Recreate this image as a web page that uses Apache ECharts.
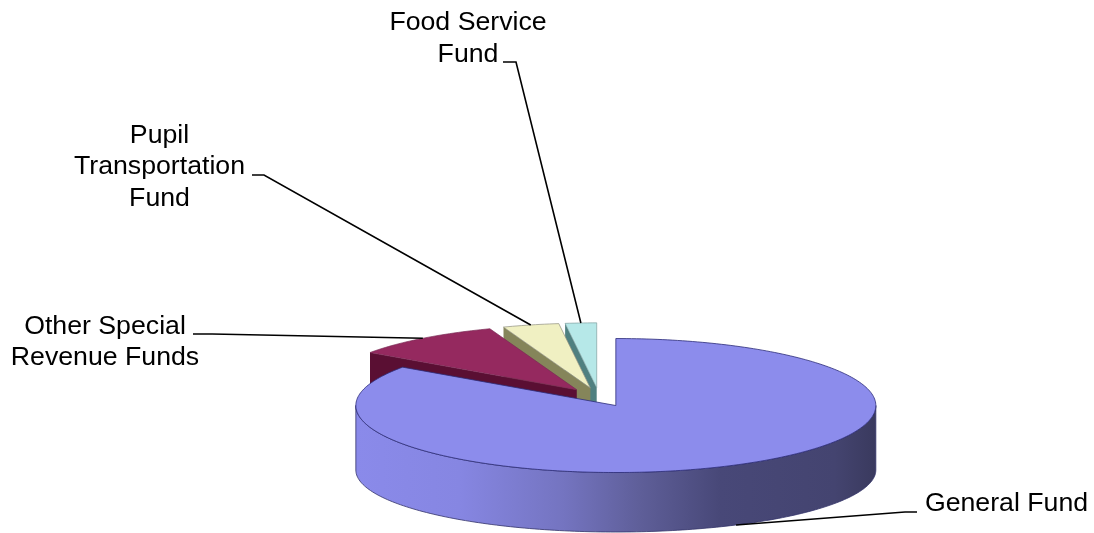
<!DOCTYPE html>
<html>
<head>
<meta charset="utf-8">
<style>html,body{margin:0;padding:0;background:#fff}#c{width:1094px;height:533px}</style>
<script src="https://cdn.jsdelivr.net/npm/echarts@6/dist/echarts.min.js"></script>
</head>
<body>
<div id="c"></div>
<script>
// Data
const categories = ['General Fund', 'Other Special\nRevenue Funds', 'Pupil\nTransportation\nFund', 'Food Service\nFund'];
const shares = [84.7, 9.7, 3.6, 2.0];

// Styles and layout
const topColors = ['#8c8cec', '#95295f', '#f0f0c2', '#b6e8e8'];
const cutColors = ['#4a4a80', '#5a0f33', '#85855a', '#4f8080'];
const edgeColors = ['#2c2c78', '#7a2a55', '#8f8f80', '#7f9f9f'];
const wallStops = [[0, '#8a8aea'], [0.2, '#8686e2'], [0.4, '#7474c0'], [0.55, '#5e5e98'], [0.7, '#484878'], [0.92, '#444470'], [1, '#3a3a5e']];
const labelBoxes = [
  {x: 1006.5, y: 504, lh: 31, elbow: [917, 512], knee: [905, 512]},
  {x: 105, y: 342.5, lh: 31, elbow: [193, 334], knee: [212, 334]},
  {x: 159.5, y: 167, lh: 31.5, elbow: [252, 175], knee: [264, 175]},
  {x: 468, y: 38.5, lh: 32, elbow: [503, 62], knee: [516, 62]}
];
const radiusScale = [1, 0.97, 0.97, 0.97];
const view = {cx: 599, cy: 397.2, rx: 260, ry: 67, depth: 64.5, ryBottom: 62, explode: 0.14};

const chart = echarts.init(document.getElementById('c'), null, {renderer: 'canvas'});
const total = shares.reduce((a, b) => a + b, 0);

function pt(c, t, k, ry) {
  return [c[0] + view.rx * k * Math.sin(t), c[1] - (ry || view.ry) * k * Math.cos(t)];
}
function arc(c, a, b, k, ry) {
  const n = Math.max(2, Math.ceil(Math.abs(b - a) / 0.02));
  const out = [];
  for (let i = 0; i <= n; i++) out.push(pt(c, a + (b - a) * i / n, k, ry));
  return out;
}
function sliceAngles(index) {
  let s = 0;
  for (let i = 0; i < index; i++) s += shares[i];
  return [s / total * Math.PI * 2, (s + shares[index]) / total * Math.PI * 2];
}

function renderItem(params, api) {
  const i = api.value(0);
  const [a, b] = sliceAngles(i);
  const mid = (a + b) / 2;
  const k = radiusScale[i];
  const c = [
    view.cx + view.rx * view.explode * Math.sin(mid),
    view.cy - view.ry * view.explode * Math.cos(mid)
  ];
  const low = [c[0], c[1] + view.depth];
  const z = i === 0 ? 20 : 14 - i;
  const children = [];

  // cut face at the start of the slice (visible for slices behind the front)
  if (i > 0) {
    const o = pt(c, a, k);
    children.push({
      type: 'polygon', z2: z,
      shape: {points: [o, c, low, [o[0], o[1] + view.depth]]},
      style: {fill: cutColors[i]}
    });
  }
  // outer wall, only on the front half
  const wa = Math.max(a, Math.PI / 2), wb = Math.min(b, Math.PI * 1.5);
  if (wb > wa) {
    const pts = arc(c, wa, wb, k).concat(arc(low, wb, wa, k, view.ryBottom));
    children.push({
      type: 'polygon', z2: z,
      shape: {points: pts},
      style: {
        fill: {
          type: 'linear', global: true,
          x: c[0] - view.rx, y: 0, x2: c[0] + view.rx, y2: 0,
          colorStops: wallStops.map(s => ({offset: s[0], color: s[1]}))
        },
        stroke: '#34346a', lineWidth: 0.8
      }
    });
  }
  // top face
  children.push({
    type: 'polygon', z2: z + 0.5,
    shape: {points: [c].concat(arc(c, a, b, k))},
    style: {fill: topColors[i], stroke: edgeColors[i], lineWidth: i === 0 ? 0.8 : 0.7}
  });

  // leader line, ending on the slice edge at its middle angle
  const end = Math.cos(mid) < 0 ? pt(low, mid, k, view.ryBottom) : pt(c, mid, k);
  const box = labelBoxes[i];
  children.push({
    type: 'polyline', z2: 40,
    shape: {points: [box.elbow, box.knee, end]},
    style: {stroke: '#000', lineWidth: 1.6, fill: null}
  });
  // label
  children.push({
    type: 'text', z2: 50,
    style: {
      text: categories[i],
      x: box.x, y: box.y,
      align: 'center', verticalAlign: 'middle',
      fontFamily: '"Liberation Sans", Arial, sans-serif',
      fontSize: 26.7, lineHeight: box.lh, fill: '#000'
    }
  });
  return {type: 'group', children};
}

chart.setOption({
  animation: false,
  backgroundColor: '#fff',
  series: [{
    type: 'custom',
    coordinateSystem: 'none',
    silent: true,
    clip: false,
    renderItem,
    data: shares.map((v, i) => ({name: categories[i], value: [i, v]}))
  }]
});
</script>
</body>
</html>
